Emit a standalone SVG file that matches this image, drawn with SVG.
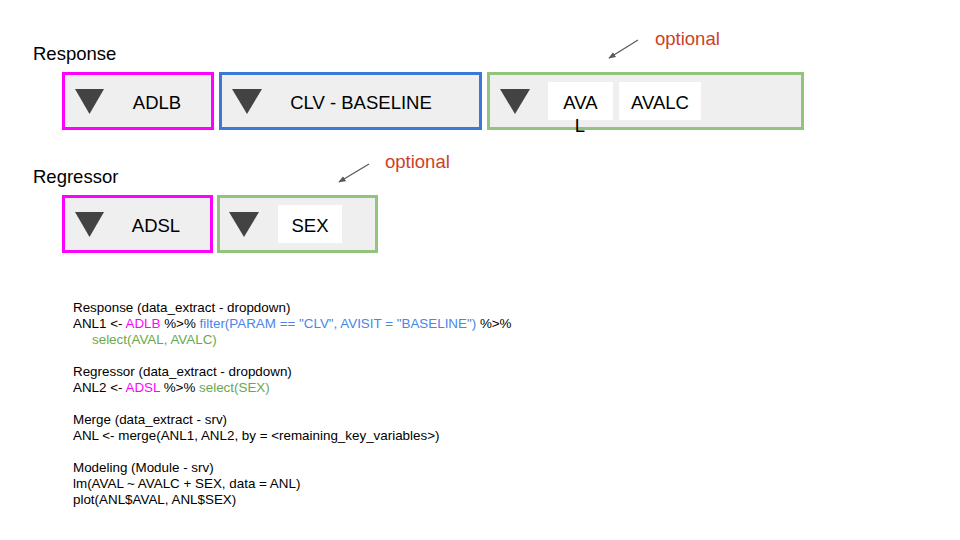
<svg xmlns="http://www.w3.org/2000/svg" width="960" height="540" viewBox="0 0 960 540">
<defs>
<style>
.t{font-family:"Liberation Sans",Arial,sans-serif;fill:#000}
.big{font-size:18.5px}
.lbl{font-size:18.5px}
.code{font-size:13.4px}
.box{fill:#efefef;stroke-width:3}
.mag{stroke:#ff00ff}
.blu{stroke:#3c78d8}
.grn{stroke:#93c47d}
.tri{fill:#434343}
.chip{fill:#ffffff}
.opt{font-family:"Liberation Sans",Arial,sans-serif;font-size:18.5px;fill:#cc4125}
.cm{fill:#ff00ff}
.cb{fill:#4a86e8}
.cg{fill:#6aa84f}
</style>
<marker id="ah" viewBox="0 0 10 10" refX="9" refY="5" markerWidth="6" markerHeight="6" orient="auto">
<path d="M0,1 L10,5 L0,9 z" fill="#595959"/>
</marker>
</defs>
<rect width="960" height="540" fill="#ffffff"/>

<text class="t lbl" x="33" y="60">Response</text>
<text class="t lbl" x="33" y="183">Regressor</text>

<g id="adlb">
<rect class="box mag" x="63.5" y="73.5" width="149" height="55"/>
<path class="tri" d="M75,89 L104,89 L89.5,114 z"/>
<text class="t big" x="157" y="109" text-anchor="middle">ADLB</text>
</g>
<g id="clv">
<rect class="box blu" x="220.5" y="73.5" width="260" height="55"/>
<path class="tri" d="M232,89 L262,89 L247,114 z"/>
<text class="t big" x="361" y="109" text-anchor="middle">CLV - BASELINE</text>
</g>
<g id="resp-vars">
<rect class="box grn" x="488.5" y="73.5" width="314" height="55"/>
<path class="tri" d="M500,89 L530,89 L515,114 z"/>
<rect class="chip" x="548" y="82" width="65" height="38"/>
<text class="t big" x="580.5" y="109" text-anchor="middle">AVA</text>
<text class="t big" x="580" y="132" text-anchor="middle">L</text>
<rect class="chip" x="619" y="82" width="82" height="38"/>
<text class="t big" x="660" y="109" text-anchor="middle">AVALC</text>
</g>
<g id="opt1">
<text class="opt" x="655" y="45">optional</text>
</g>

<g id="adsl">
<rect class="box mag" x="63.5" y="196.5" width="148" height="55"/>
<path class="tri" d="M75,212 L104,212 L89.5,237 z"/>
<text class="t big" x="156" y="232" text-anchor="middle">ADSL</text>
</g>
<g id="reg-vars">
<rect class="box grn" x="218.5" y="196.5" width="158" height="55"/>
<path class="tri" d="M229,212 L259,212 L244,237 z"/>
<rect class="chip" x="278" y="205" width="64" height="38"/>
<text class="t big" x="310" y="232" text-anchor="middle">SEX</text>
</g>
<g id="opt2">
<text class="opt" x="385" y="168">optional</text>
</g>

<g id="connectors" stroke="#595959" stroke-width="1.2" fill="none">
<line x1="638" y1="40" x2="609" y2="58" marker-end="url(#ah)"/>
<line x1="369" y1="164" x2="339" y2="182" marker-end="url(#ah)"/>
</g>

<g id="code" class="t code">
<text x="73" y="312">Response (data_extract - dropdown)</text>
<text x="73" y="328">ANL1 &lt;- <tspan class="cm">ADLB</tspan> %&gt;% <tspan class="cb">filter(PARAM == "CLV", AVISIT = "BASELINE")</tspan> %&gt;%</text>
<text x="92" y="344" class="cg">select(AVAL, AVALC)</text>
<text x="73" y="376">Regressor (data_extract - dropdown)</text>
<text x="73" y="392">ANL2 &lt;- <tspan class="cm">ADSL</tspan> %&gt;% <tspan class="cg">select(SEX)</tspan></text>
<text x="73" y="424">Merge (data_extract - srv)</text>
<text x="73" y="440">ANL &lt;- merge(ANL1, ANL2, by = &lt;remaining_key_variables&gt;)</text>
<text x="73" y="472">Modeling (Module - srv)</text>
<text x="73" y="488">lm(AVAL ~ AVALC + SEX, data = ANL)</text>
<text x="73" y="504">plot(ANL$AVAL, ANL$SEX)</text>
</g>
</svg>
